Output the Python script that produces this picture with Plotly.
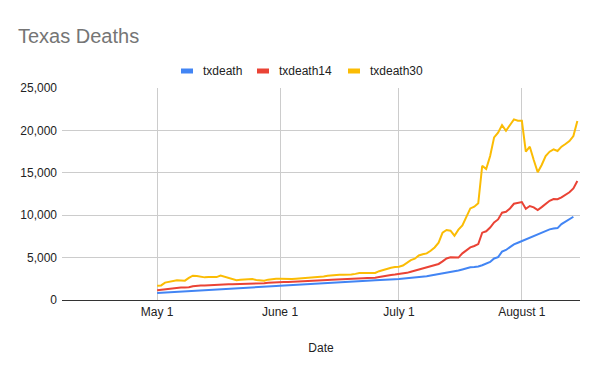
import pandas as pd
import plotly.graph_objects as go

# Daily values from May 1, 2020
start_date = "2020-05-01"

txdeath = [
    816, 847, 867, 878, 906, 948, 973, 1004, 1049, 1088,
    1100, 1133, 1158, 1216, 1235, 1272, 1305, 1326, 1347, 1369,
    1419, 1440, 1459, 1480, 1506, 1515, 1527, 1560, 1598, 1631,
    1648, 1672, 1696, 1734, 1767, 1795, 1830, 1841, 1853, 1885,
    1920, 1949, 1983, 2013, 2029, 2045, 2074, 2121, 2158, 2167,
    2192, 2220, 2250, 2270, 2300, 2330, 2370, 2400, 2420, 2440,
    2460, 2480, 2520, 2570, 2610, 2650, 2690, 2720, 2800, 2900,
    2970, 3050, 3130, 3200, 3290, 3380, 3480, 3600, 3750, 3860,
    3900, 3950, 4100, 4300, 4480, 4900, 5050, 5700, 5900, 6230,
    6560, 6750, 6950, 7150, 7350, 7550, 7760, 7960, 8150, 8330,
    8420, 8480, 8950, 9250, 9530, 9820,
]

txdeath14 = [
    1140, 1200, 1270, 1330, 1380, 1430, 1460, 1480, 1500, 1620,
    1690, 1700, 1720, 1740, 1800, 1840, 1880, 1890, 1870, 1850,
    1860, 1900, 1910, 1920, 1920, 1930, 1960, 1980, 2030, 2070,
    2090, 2100, 2120, 2130, 2150, 2180, 2200, 2200, 2210, 2210,
    2250, 2300, 2330, 2370, 2400, 2430, 2460, 2500, 2520, 2540,
    2560, 2570, 2570, 2580, 2590, 2620, 2700, 2800, 2880, 2950,
    3000, 3050, 3100, 3200, 3330, 3460, 3600, 3700, 3780, 3900,
    4050, 4250, 4550, 4900, 5030, 5020, 5000, 5500, 5800, 6200,
    6370, 6600, 7940, 8100, 8550, 9150, 9500, 10300, 10400, 10800,
    11350, 11450, 11550, 10750, 11080, 10930, 10600, 10950, 11350, 11700,
    11900, 11880, 12100, 12400, 12700, 13150, 14030,
]

txdeath30 = [
    1690, 1720, 2050, 2150, 2250, 2320, 2300, 2280, 2600, 2870,
    2840, 2750, 2670, 2720, 2750, 2700, 2870, 2750, 2640, 2500,
    2330, 2400, 2440, 2490, 2480, 2360, 2320, 2280, 2400, 2480,
    2500, 2510, 2480, 2440, 2480, 2510, 2550, 2590, 2570, 2600,
    2670, 2730, 2760, 2850, 2920, 2950, 2980, 2980, 2980, 3000,
    3080, 3180, 3170, 3150, 3160, 3180, 3400, 3560, 3720, 3800,
    3880, 3920, 4060, 4400, 4700, 4870, 5250, 5400, 5500, 5800,
    6200, 6760, 7940, 8250, 8170, 7580, 8300, 8800, 9750, 10800,
    11000, 11400, 15830, 15440, 16980, 19180, 19730, 20630, 19960, 20630,
    21300, 21140, 21140, 17490, 18080, 16510, 15060, 15920, 16980, 17490,
    17770, 17570, 18080, 18400, 18750, 19340, 21100,
]

tick_dates = ["2020-05-01", "2020-06-01", "2020-07-01", "2020-08-01"]
tick_labels = ["May 1", "June 1", "July 1", "August 1"]
y_ticks = [0, 5000, 10000, 15000, 20000, 25000]

series_names = ["txdeath", "txdeath14", "txdeath30"]
series_values = [txdeath, txdeath14, txdeath30]
series_colors = ["#4285F4", "#EA4335", "#FBBC04"]

font_family = "Arial, Liberation Sans, sans-serif"

W, H = 600, 371
ML, MR, MT, MB = 62, 20, 88, 71
PW, PH = W - ML - MR, H - MT - MB

fig = go.Figure()
for name, vals, color in zip(series_names, series_values, series_colors):
    dates = pd.date_range(start_date, periods=len(vals), freq="D")
    fig.add_trace(go.Scatter(
        x=dates, y=vals, name=name, mode="lines",
        line=dict(color=color, width=2), showlegend=False,
    ))

# Legend in Google-Sheets style: short colour keys followed by the names
legend_key_left = [181, 257, 348]  # pixel positions of the keys
legend_cy = 71
for name, color, kx in zip(series_names, series_colors, legend_key_left):
    fig.add_shape(
        type="rect", xref="paper", yref="paper",
        x0=(kx - ML) / PW, x1=(kx + 12 - ML) / PW,
        y0=(MT + PH - legend_cy - 2.5) / PH, y1=(MT + PH - legend_cy + 2.5) / PH,
        fillcolor=color, line=dict(width=0), layer="above",
    )
    fig.add_annotation(
        text=name, xref="paper", yref="paper", showarrow=False,
        x=(kx + 20 - ML) / PW, xanchor="left",
        y=(MT + PH - legend_cy) / PH, yanchor="middle",
        font=dict(family=font_family, size=12, color="#222222"),
    )

fig.update_layout(
    width=W, height=H,
    margin=dict(l=ML, r=MR, t=MT, b=MB),
    paper_bgcolor="white", plot_bgcolor="white",
    font=dict(family=font_family, size=12, color="#222222"),
    showlegend=False,
    title=dict(
        text="Texas Deaths", x=18 / W, xanchor="left", xref="container",
        y=1 - 36 / H, yanchor="middle", yref="container",
        font=dict(family=font_family, size=20, color="#757575"),
    ),
    xaxis=dict(
        range=["2020-04-07", "2020-08-15 16:00"],
        tickvals=tick_dates, ticktext=tick_labels,
        showgrid=True, gridcolor="#cccccc", gridwidth=1,
        zeroline=False, showline=False, ticks="",
        ticklabelstandoff=3, automargin=False,
        tickfont=dict(color="#222222", size=12),
        title=dict(text="Date", standoff=25, font=dict(size=12, color="#222222")),
    ),
    yaxis=dict(
        range=[0, 25000], tickvals=y_ticks, tickformat=",",
        showgrid=True, gridcolor="#cccccc", gridwidth=1,
        zeroline=True, zerolinecolor="#333333", zerolinewidth=1,
        showline=False, ticks="", automargin=False,
        ticklabelstandoff=4,
        tickfont=dict(color="#222222", size=12),
    ),
)

fig.write_html(
    "out.html",
    config={"displayModeBar": False},
    post_script="document.body.style.margin='0';",
)
